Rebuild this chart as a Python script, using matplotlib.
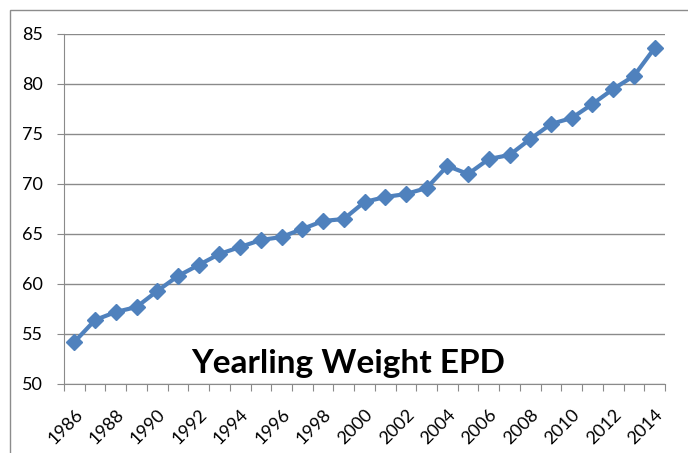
import numpy as np
import matplotlib
matplotlib.use('Agg')
import matplotlib.pyplot as plt
from matplotlib.patches import Rectangle

# yearling weight EPD by year
years = list(range(1986, 2015))
epd = [54.2, 56.4, 57.2, 57.7, 59.3, 60.8, 61.9, 63.0, 63.7, 64.4,
       64.7, 65.5, 66.3, 66.5, 68.2, 68.7, 69.0, 69.6, 71.8, 71.0,
       72.5, 72.9, 74.5, 76.0, 76.6, 78.0, 79.5, 80.8, 83.6]
yticks = [50, 55, 60, 65, 70, 75, 80, 85]

plt.rcParams['font.family'] = ['Lato', 'DejaVu Sans']

W, H = 688, 453
fig = plt.figure(figsize=(W / 100, H / 100), dpi=100)
ax = fig.add_axes([64 / W, 1 - 384 / H, (665 - 64) / W, (384 - 34) / H])

# outer chart frame (cropped on the right and bottom)
fig.patches.append(Rectangle((9.5 / W, -0.1), 1.2, 1 - 10 / H + 0.1,
                             transform=fig.transFigure, fill=False,
                             edgecolor='#8c8c8c', linewidth=1))

x = np.arange(len(years))
ax.plot(x, epd, color='#4F81BD', linewidth=3, marker='D', markersize=8,
        markeredgecolor='#4F81BD', zorder=3)

ax.set_xlim(-0.5, len(years) - 0.5)
ax.set_ylim(50, 85)
ax.set_yticks(yticks)
ax.grid(axis='y', color='#8a8a8a', linewidth=1)
ax.set_axisbelow(True)

ax.set_xticks(np.arange(-0.5, len(years)), minor=False)
ax.set_xticklabels([])
ax.set_xticks(x[::2], minor=True)
ax.set_xticklabels([str(y) for y in years[::2]], minor=True, rotation=45,
                   ha='right', va='top', rotation_mode='anchor', fontsize=13)
ax.tick_params(axis='x', which='minor', length=0, pad=16)
ax.tick_params(axis='x', which='major', length=5, color='#8a8a8a')
ax.tick_params(axis='y', length=5, color='#8a8a8a', labelsize=13, pad=10)

for s in ['top', 'right']:
    ax.spines[s].set_visible(False)
for s in ['left', 'bottom']:
    ax.spines[s].set_color('#8a8a8a')

ax.text(0.4726, 0.031, 'Yearling Weight EPD', transform=ax.transAxes,
        ha='center', va='baseline', fontsize=24, fontweight='bold')

fig.savefig('out.png', dpi=100)
